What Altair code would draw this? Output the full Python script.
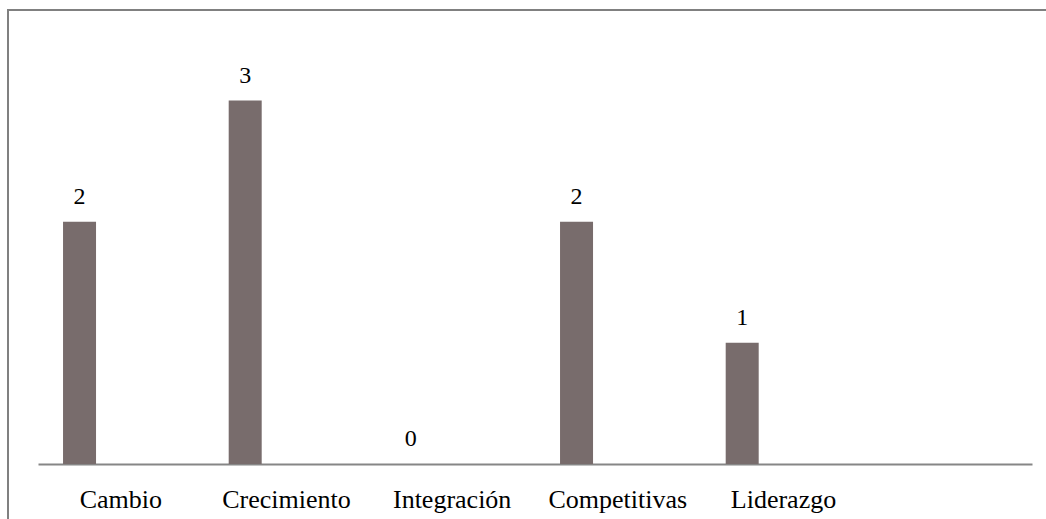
import altair as alt
import pandas as pd

# Categories along the x axis (the last slot is an empty placeholder band)
categories = ["Cambio", "Crecimiento", "Integración", "Competitivas", "Liderazgo"]
axis_slots = categories + [" "]
counts = [2, 3, 0, 2, 1]

df = pd.DataFrame({"categoria": categories, "valor": counts})

FONT = "Liberation Serif"
BAR_COLOR = "#786c6c"

x_enc = alt.X(
    "categoria:N",
    scale=alt.Scale(domain=axis_slots, paddingInner=0, paddingOuter=0),
    sort=axis_slots,
    axis=alt.Axis(
        title=None,
        ticks=False,
        labelAngle=0,
        labelFont=FONT,
        labelFontSize=26,
        labelColor="#000000",
        labelBaseline="alphabetic",
        labelPadding=43,
        domainColor="#868686",
        domainWidth=2,
        grid=False,
    ),
)
y_enc = alt.Y(
    "valor:Q",
    scale=alt.Scale(domain=[0, 3.5], nice=False),
    axis=None,
)

# Frame around the whole figure
frame = alt.Chart(pd.DataFrame({"k": [0]})).mark_rect(
    fill=None, stroke="#808080", strokeWidth=2
).encode(
    x=alt.value(-30), x2=alt.value(1200),
    y=alt.value(-30), y2=alt.value(700),
)

bars = alt.Chart(df).mark_bar(
    color=BAR_COLOR, size=33, xOffset=-41.3
).encode(x=x_enc, y=y_enc)

labels = alt.Chart(df).mark_text(
    font=FONT, fontSize=24, color="#000000",
    baseline="alphabetic", dy=-18, xOffset=-41.3
).encode(x=x_enc, y=y_enc, text="valor:Q")

chart = alt.layer(frame, bars, labels).properties(
    width=994,
    height=424,
    autosize=alt.AutoSizeParams(type="none"),
    padding={"left": 38, "top": 40, "right": 14, "bottom": 55},
    background="#ffffff",
).configure_view(stroke=None)

chart.save("out.html", embed_options={"renderer": "svg", "actions": False})
